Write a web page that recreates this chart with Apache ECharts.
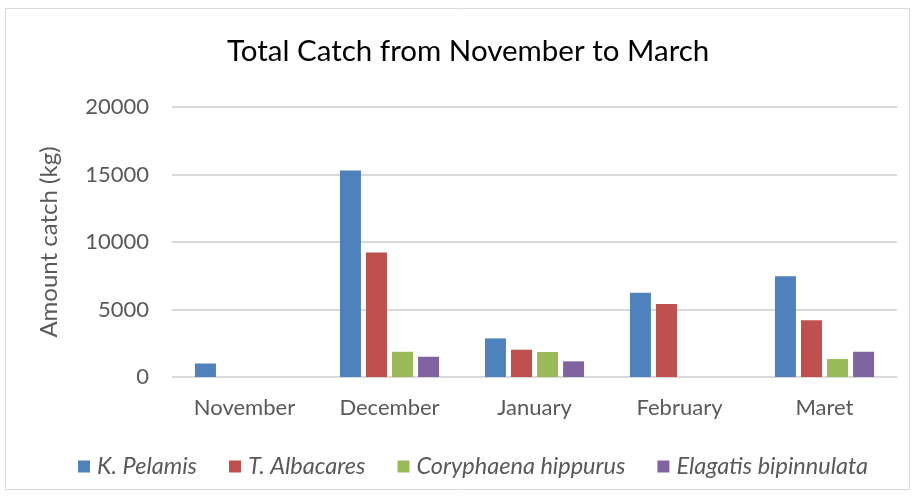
<!DOCTYPE html>
<html>
<head>
<meta charset="utf-8">
<script src="https://cdn.jsdelivr.net/npm/echarts@6/dist/echarts.min.js"></script>
<style>
  html, body { margin: 0; padding: 0; background: #fff; }
  #chart { width: 915px; height: 497px; }
</style>
</head>
<body>
<div id="chart"></div>
<script>
// months on the x axis
var months = ['November', 'December', 'January', 'February', 'Maret'];
var seriesNames = ['K. Pelamis', 'T. Albacares', 'Coryphaena hippurus', 'Elagatis bipinnulata'];

// catch per species (kg)
var kPelamis = [1000, 15300, 2860, 6250, 7460];
var tAlbacares = [0, 9230, 2020, 5400, 4210];
var coryphaena = [0, 1870, 1850, 0, 1330];
var elagatis = [0, 1500, 1160, 0, 1870];

var yTicks = [0, 5000, 10000, 15000, 20000];

var colors = ['#4f81bd', '#c0504d', '#9bbb59', '#8064a2'];
var font = 'Lato, "Open Sans", sans-serif';

var chart = echarts.init(document.getElementById('chart'));

var allData = [kPelamis, tAlbacares, coryphaena, elagatis];
var series = [];
for (var i = 0; i < seriesNames.length; i++) {
    series.push({
        name: seriesNames[i],
        type: 'bar',
        data: allData[i],
        barWidth: 21,
        barGap: '24%',
        itemStyle: { color: colors[i] }
    });
}

var option = {
    animation: false,
    color: colors,
    graphic: [{
        type: 'rect',
        shape: { x: 5.5, y: 8.5, width: 904, height: 481 },
        style: { fill: 'none', stroke: '#d9d9d9', lineWidth: 1 },
        silent: true
    }],
    title: {
        text: 'Total Catch from November to March',
        left: 222,
        top: 31,
        textStyle: { color: '#000', fontSize: 29.5, fontWeight: 'normal', fontFamily: font }
    },
    grid: { left: 172, right: 18, top: 107, bottom: 120 },
    legend: {
        bottom: 14,
        left: 73,
        itemWidth: 12,
        itemHeight: 12,
        itemGap: 32,
        icon: 'rect',
        textStyle: { color: '#595959', fontSize: 23.5, fontStyle: 'italic', fontFamily: font, padding: [0, 0, 0, 2] }
    },
    xAxis: {
        type: 'category',
        data: months,
        axisLine: { show: true, lineStyle: { color: '#d9d9d9', width: 1 } },
        axisTick: { show: false },
        axisLabel: { color: '#595959', fontSize: 22, margin: 20, fontFamily: font }
    },
    yAxis: {
        type: 'value',
        min: yTicks[0],
        max: yTicks[yTicks.length - 1],
        interval: 5000,
        name: 'Amount catch (kg)',
        nameLocation: 'middle',
        nameGap: 111,
        nameRotate: 90,
        nameTextStyle: { color: '#595959', fontSize: 24, fontFamily: font },
        axisLine: { show: false },
        axisTick: { show: false },
        axisLabel: {
            color: '#595959', fontSize: 22, margin: 23, fontFamily: font,
            formatter: function (v) { return String(v); }
        },
        splitLine: { lineStyle: { color: '#d9d9d9', width: 2 } }
    },
    series: series
};

chart.setOption(option);
</script>
</body>
</html>
